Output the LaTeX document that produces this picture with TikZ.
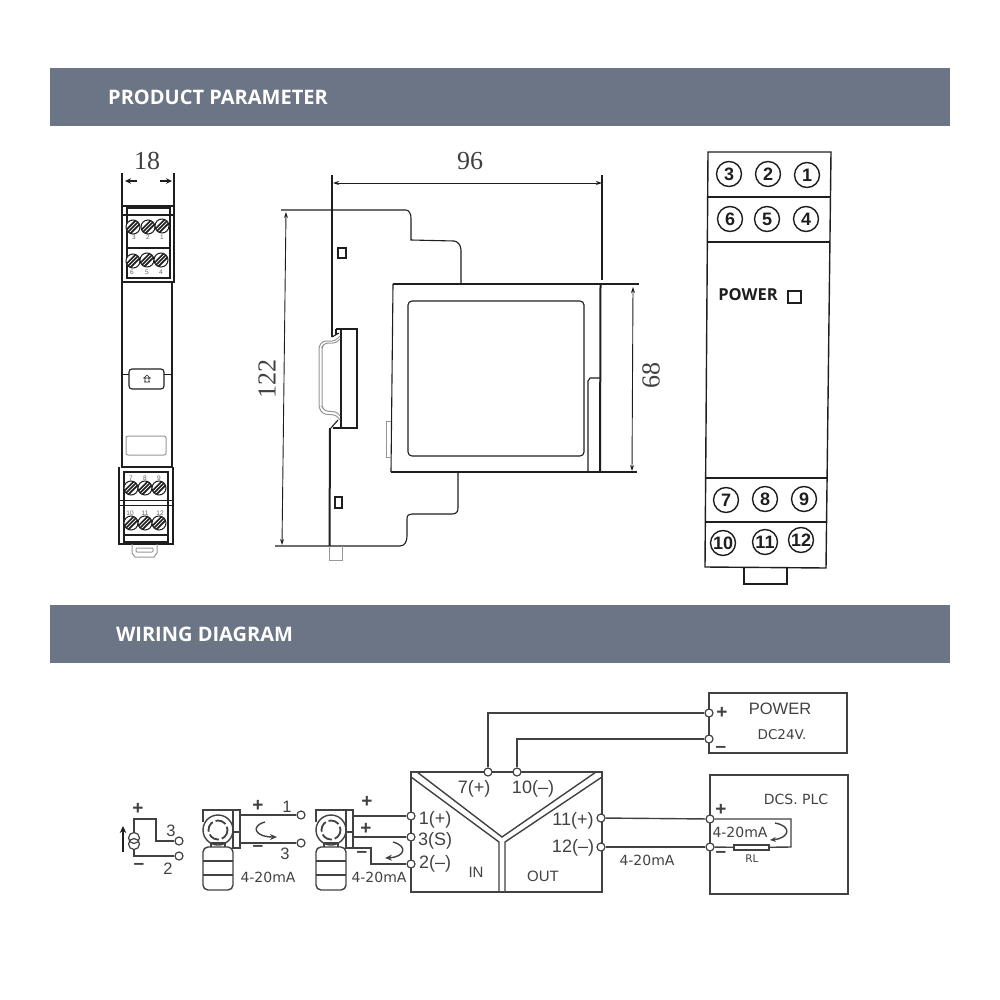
\documentclass[tikz,border=0pt]{standalone}
\usepackage{fontspec}
\setmainfont{Liberation Serif}
\newfontfamily\lsans{Liberation Sans}
\newfontfamily\dsans{DejaVu Sans}
\newfontfamily\osans{Open Sans}
\usetikzlibrary{arrows.meta}
\definecolor{barcol}{RGB}{107,117,133}
\definecolor{ink}{RGB}{30,30,30}
\definecolor{wire}{RGB}{65,65,65}
\definecolor{soft}{RGB}{150,150,150}
\tikzset{
  bar/.style={fill=barcol,draw=none,minimum width=900pt,minimum height=58pt,inner sep=0},
  bartext/.style={text=white,font=\osans\bfseries\fontsize{20}{22}\selectfont,inner sep=0},
  dimtext/.style={text=ink!85,font=\fontsize{26}{28}\selectfont,inner sep=0},
  line/.style={draw=ink,line width=1.1pt},
  heavy/.style={draw=ink,line width=2pt},
  thin/.style={draw=ink,line width=.7pt},
  greyline/.style={draw=soft,line width=1pt},
  dimline/.style={draw=ink,line width=.9pt,{Stealth[length=6pt,width=4pt]}-{Stealth[length=6pt,width=4pt]}},
  wireline/.style={draw=wire,line width=1.4pt},
  term/.style={circle,draw=wire,fill=white,line width=1.2pt,minimum size=8pt,inner sep=0},
  num/.style={circle,draw=ink,line width=1.4pt,minimum size=25pt,inner sep=0,text=ink,font=\lsans\bfseries\fontsize{18}{20}\selectfont},
  screwhead/.style={circle,draw=ink,fill=white,line width=1pt,minimum size=14pt,inner sep=0,
    path picture={\foreach \d in {-3.8,0,3.8}{\draw[ink,line width=1.7pt]
      ([shift={(\d-8,8)}]path picture bounding box.center) -- ++(16,-16);}}},
  tiny/.style={text=ink!70,font=\lsans\fontsize{6.5}{7}\selectfont,inner sep=0},
  wlabel/.style={text=wire,font=\lsans\fontsize{18}{20}\selectfont,inner sep=0},
  wsmall/.style={text=wire,font=\lsans\fontsize{15}{17}\selectfont,inner sep=0},
  wdigit/.style={text=wire,font=\lsans\fontsize{16.5}{18}\selectfont,inner sep=0},
  dlabel/.style={text=wire,font=\dsans\fontsize{14}{16}\selectfont,inner sep=0},
  sign/.style={text=wire,font=\lsans\bfseries\fontsize{19}{20}\selectfont,inner sep=0},
  powerbold/.style={text=ink,font=\osans\bfseries\fontsize{16.5}{18}\selectfont,inner sep=0},
  transmitter/.pic={
    \draw[wireline] (0,12) -- (0,0) -- (37,0) -- (37,38) -- (30,38) -- (30,0);
    \draw[wireline] (30,22) -- (37,22);
    \draw[wireline] (15,20) circle[radius=15];
    \draw[wireline,line width=1.8pt,dash pattern=on 11pt off 3pt] (15,20) circle[radius=9.5];
    \draw[wireline] (8,33) -- (8,37) (22,33) -- (22,37) (8,33) -- (22,33);
    \draw[wireline,rounded corners=5pt] (0,37) rectangle (30,80);
    \draw[wireline] (0,51) -- (30,51) (0,65) -- (30,65);
  }
}
\begin{document}
\begin{tikzpicture}[x=1pt,y=-1pt]
\useasboundingbox (0,0) rectangle (1000,1000);
% header bars
\node[bar] (barA) at (500,97) {};
\node[bar] (barB) at (500,634) {};
\node[bartext] (barAt) at (218,97) {PRODUCT PARAMETER};
\node[bartext] (barBt) at (204.5,634) {WIRING DIAGRAM};

% ---------- front view, left
\node[dimtext] (d18) at (147,161) {18};
\draw[heavy] (122,173) -- (122,205);
\draw[heavy] (174,173) -- (174,205);
\draw[line,line width=1.4pt,-{Stealth[length=6pt,width=5.5pt]}] (137,181) -- (125,181);
\draw[line,line width=1.4pt,-{Stealth[length=6pt,width=5.5pt]}] (160,181) -- (172,181);
\draw[line] (122,206) rectangle (174,282);
\draw[line] (127,208) rectangle (170,278);
\draw[line] (122,215) -- (174,215);
\draw[heavy] (127,248) -- (170,248);
\draw[heavy] (122,282) -- (122,467) -- (172,467) -- (172,282) -- cycle;
\draw[line,rounded corners=3pt] (129,369) rectangle (164,389);
\draw[thin] (122,374) -- (129,374) (164,374) -- (172,374);
\draw[thin] (143,378) -- (151,378) (144,382) -- (150,382) (145,378) -- (145,382) (149,378) -- (149,382) (147,375) -- (144,378) (147,375) -- (150,378);
\draw[greyline,rounded corners=2pt] (126,436) rectangle (166,455);
\draw[line] (119,467) -- (119,544) -- (173,544) -- (173,467);
\draw[line] (124,472) rectangle (168,542);
\draw[thin] (119,500) -- (173,500) (119,505) -- (173,505);
\draw[line] (124,535) -- (168,535);
\draw[greyline] (132,544) -- (132,553) -- (135,557) -- (154,557) -- (157,553) -- (157,544);
\draw[greyline,rounded corners=1pt] (136,548) rectangle (153,552);
\node[screwhead] (s3) at (133,227) {};
\node[screwhead] (s2) at (148,227) {};
\node[screwhead] (s1) at (162,226) {};
\node[screwhead] (s6) at (133,261) {};
\node[screwhead] (s5) at (147,260) {};
\node[screwhead] (s4) at (161,260) {};
\node[screwhead] (s7) at (131,488) {};
\node[screwhead] (s8) at (145,488) {};
\node[screwhead] (s9) at (159,488) {};
\node[screwhead] (s10) at (131,523) {};
\node[screwhead] (s11) at (145,523) {};
\node[screwhead] (s12) at (159,523) {};
\node[tiny] (l3) at (134,237) {3};
\node[tiny] (l2) at (148,237) {2};
\node[tiny] (l1) at (162,237) {1};
\node[tiny] (l6) at (132,272) {6};
\node[tiny] (l5) at (147,272) {5};
\node[tiny] (l4) at (161,272) {4};
\node[tiny] (l7) at (131,478) {7};
\node[tiny] (l8) at (145,478) {8};
\node[tiny] (l9) at (159,478) {9};
\node[tiny] (l10) at (130,513) {10};
\node[tiny] (l11) at (145,513) {11};
\node[tiny] (l12) at (160,513) {12};

% ---------- side view
\node[dimtext] (d96) at (470,161) {96};
\node[dimtext,rotate=90] (d122) at (267,379) {122};
\node[dimtext,rotate=90] (d68) at (651,375) {68};
\draw[line] (332,175) -- (332,337);
\draw[line] (602,175) -- (602,280);
\draw[dimline] (333,183) -- (602,183);
\draw[line] (281,210) -- (406,210) .. controls (409,210) and (411,214) .. (411,218) -- (411,240) -- (454,241) .. controls (458,241) and (461,246) .. (461,250) -- (461,284);
\draw[line] (275,546) -- (400,546) .. controls (405,546) and (407,541) .. (407,536) -- (407,519) .. controls (407,515) and (409,514) .. (412,514) -- (452,514) .. controls (456,514) and (458,512) .. (458,508) -- (458,472);
\draw[dimline] (286,212) -- (282,545);
\draw[dimline] (633,287) -- (632,471);
\draw[line] (393,284) -- (639,284);
\draw[line] (391,472) -- (637,472);
\draw[line] (393,284) -- (391,472);
\draw[heavy] (600.5,284) -- (600,472);
\draw[line,rounded corners=4pt] (408,301) rectangle (584,456);
\draw[line] (588,472) -- (588,381) -- (590,378) -- (600,378);
\draw[greyline] (391,421) -- (386,421) -- (386,457) -- (391,457);
% rail clip
\draw[line] (336,329) -- (357,329) -- (357,428) -- (333,428);
\draw[heavy] (341,329) -- (341,428);
\draw[line] (336,329) -- (336,335);
\draw[line] (332,337) -- (339,333);
\draw[line] (338,420) -- (331,428);
\draw[heavy] (330,428) -- (329.5,546);
\draw[greyline] (329,546) -- (329,560) -- (342,560) -- (342,546);
\draw[greyline,rounded corners=3pt] (340,336) -- (335,341) -- (323,341) -- (319,346) -- (319,408) -- (323,414) -- (336,415) -- (340,420);
\draw[greyline,rounded corners=3pt] (340,339) -- (336,343) -- (325,343) -- (322,347) -- (322,407) -- (325,411) -- (337,412) -- (340,416);
\draw[line] (338,248) rectangle (346,258);
\draw[line] (335,497) rectangle (342,508);

% ---------- terminal view, right
\draw[line,line width=1.4pt] (708,152) -- (831,152) -- (826,568) -- (705,567) -- cycle;
\draw[line] (708,197) -- (830,197);
\draw[line] (708,242) -- (829,242);
\draw[line] (706,478) -- (827,478);
\draw[line] (705,522) -- (826,522);
\draw[line,line width=1.4pt] (744,568) -- (744,584) -- (787,584) -- (787,568);
\node[num] (n3) at (729,174) {3};
\node[num] (n2) at (768,174) {2};
\node[num] (n1) at (807,175) {1};
\node[num] (n6) at (730,219) {6};
\node[num] (n5) at (767,219) {5};
\node[num] (n4) at (806,219) {4};
\node[num] (n7) at (726,500) {7};
\node[num] (n8) at (765,499) {8};
\node[num] (n9) at (804,499) {9};
\node[num] (n10) at (723,543) {10};
\node[num] (n11) at (765,542) {11};
\node[num] (n12) at (801,540) {12};
\node[powerbold] (pw) at (748,295) {POWER};
\draw[line,line width=1.4pt] (788,291) rectangle (801,303);

% ---------- wiring: boxes
\node[draw=wire,line width=1.5pt,minimum width=138pt,minimum height=60pt,inner sep=0] (pbox) at (778,723) {};
\node[draw=wire,line width=1.5pt,minimum width=138pt,minimum height=119pt,inner sep=0] (dbox) at (779,834.5) {};
\node[draw=wire,line width=1.5pt,minimum width=191pt,minimum height=120pt,inner sep=0] (mbox) at (506.5,832) {};
\draw[wireline] (417,772) -- (502,837) -- (596,772);
\draw[wireline] (411,777) -- (499,842) -- (499,892);
\draw[wireline] (602,777) -- (505,842) -- (505,892);

% terminals
\node[term] (tp) at (709,713) {};
\node[term] (tm) at (709,739) {};
\node[term] (t7) at (488,772) {};
\node[term] (t10) at (517,772) {};
\node[term] (t1) at (411,816) {};
\node[term] (t3) at (411,837) {};
\node[term] (t2) at (411,864) {};
\node[term] (t11) at (601,818) {};
\node[term] (t12) at (601,847) {};
\node[term] (dp) at (710,819) {};
\node[term] (dm) at (710,847) {};
\node[term] (a3) at (179,841) {};
\node[term] (a2) at (179,856) {};
\node[term] (b1) at (301,815) {};
\node[term] (b3) at (301,843) {};

\draw[wireline] (t7) |- (tp);
\draw[wireline] (t10) |- (tm);
\draw[wireline] (t11) -- (dp);
\draw[wireline] (t12) -- (dm);

% load resistor
\node[draw=wire,line width=1.3pt,minimum width=35pt,minimum height=5pt,inner sep=0] (rl) at (751.5,847.5) {};
\draw[wireline] (dm) -- (rl);
\draw[wireline] (dp) -- (791,819) -- (791,847) -- (rl);
\draw[wireline,-{Stealth[length=6pt,width=5pt]}] (775,823) .. controls (792,826) and (790,838) .. (770,840);

% source
\node[circle,draw=wire,line width=1.2pt,minimum size=11pt,inner sep=0] (src1) at (134,838) {};
\node[circle,draw=wire,line width=1.2pt,minimum size=11pt,inner sep=0] (src2) at (134,844) {};
\coordinate (srcA) at (134,819);
\coordinate (srcB) at (156,819);
\coordinate (srcC) at (134,856);
\draw[wireline] (src1) -- (srcA) -- (srcB) |- (a3);
\draw[wireline] (src2) -- (srcC) -- (a2);
\draw[ink,line width=2pt,-{Stealth[length=7pt,width=6.5pt]}] (123,852) -- (123,826);

% transmitters
\pic at (203,810) {transmitter};
\pic at (316,810) {transmitter};
\coordinate (xa) at (240,815);
\coordinate (xb) at (240,843);
\coordinate (ya) at (353,816);
\coordinate (yb) at (353,837);
\coordinate (yc) at (353,848);
\coordinate (yd) at (371,848);
\draw[wireline] (xa) -- (b1);
\draw[wireline] (xb) -- (b3);
\draw[wireline] (ya) -- (t1);
\draw[wireline] (yb) -- (t3);
\draw[wireline] (yc) -- (yd) |- (t2);
\draw[wireline,-{Stealth[length=7pt,width=6pt]}] (265,822) .. controls (250,826) and (255,837) .. (277,837);
\draw[wireline,-{Stealth[length=7pt,width=6pt]}] (393,842) .. controls (408,846) and (405,857) .. (385,858);

% labels
\node[sign] (ps1) at (138,809) {+};
\node[sign] (ms1) at (139,866) {–};
\node[wdigit] (la3) at (171,831) {3};
\node[wdigit] (la2) at (168,869) {2};
\node[sign] (ps2) at (258,806) {+};
\node[sign] (ms2) at (258,848) {–};
\node[wdigit] (lb1) at (287,807) {1};
\node[wdigit] (lb3) at (285,854) {3};
\node[dlabel] (ma1) at (268,877) {4-20mA};
\node[sign] (ps3) at (367,802) {+};
\node[sign] (ps4) at (366,829) {+};
\node[sign] (ms3) at (362,854) {–};
\node[dlabel,fill=white,inner sep=.5pt] (ma2) at (379,877) {4-20mA};
\node[wlabel] (w7) at (474,789) {7(+)};
\node[wlabel] (w10) at (533,789) {10(–)};
\node[wlabel] (w1) at (435,820) {1(+)};
\node[wlabel] (w3) at (435,841) {3(S)};
\node[wlabel] (w2) at (435,864) {2(–)};
\node[wlabel] (w11) at (573,821) {11(+)};
\node[wlabel] (w12) at (573,848) {12(–)};
\node[wsmall] (wi) at (476,872) {IN};
\node[wsmall] (wo) at (543,876) {OUT};
\node[dlabel] (ma3) at (647,860) {4-20mA};
\node[sign] (ps5) at (722,713) {+};
\node[sign] (ms5) at (721,749) {–};
\node[text=wire,font=\lsans\fontsize{16.5}{18}\selectfont,inner sep=0] (pwt) at (780,709) {POWER};
\node[dlabel,font=\dsans\fontsize{13.5}{15}\selectfont] (dc) at (782,735) {DC24V.};
\node[dlabel] (dcs) at (796,799) {DCS. PLC};
\node[sign] (ps6) at (721,810) {+};
\node[sign] (ms6) at (721,854) {–};
\node[dlabel] (ma4) at (740,832) {4-20mA};
\node[dlabel,font=\dsans\fontsize{10.5}{12}\selectfont] (rlt) at (752,859) {RL};
\end{tikzpicture}
\end{document}
